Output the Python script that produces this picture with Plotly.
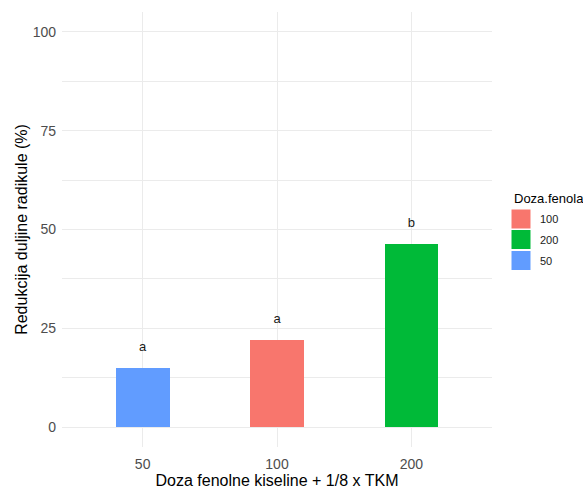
import plotly.graph_objects as go

# Data
doses = ["50", "100", "200"]
reduction = [15.07, 22.15, 46.4]
letters = ["a", "a", "b"]
colors_by_dose = {"100": "#F8766D", "200": "#00BA38", "50": "#619CFF"}
legend_order = ["100", "200", "50"]
label_offset = 5

W, H = 583, 491
ML, MR, MT, MB = 62, 91, 12, 44
PW, PH = W - ML - MR, H - MT - MB


def px2x(px):
    return (px - ML) / PW


def py2y(py):
    return (H - MB - py) / PH


fig = go.Figure()
fig.add_trace(go.Bar(
    x=doses, y=reduction, width=0.4,
    marker=dict(color=[colors_by_dose[d] for d in doses], line=dict(width=0)),
    showlegend=False, hoverinfo="skip",
))
fig.add_trace(go.Scatter(
    x=doses, y=[v + label_offset for v in reduction], text=letters,
    mode="text", textposition="middle center",
    textfont=dict(family="Liberation Sans, Arial", size=13, color="#1A1A1A"),
    showlegend=False, hoverinfo="skip",
))

grid_col = "#EBEBEB"
fig.update_xaxes(
    type="category", categoryorder="array", categoryarray=doses,
    range=[-0.6, 2.6], showgrid=True, gridcolor=grid_col, gridwidth=1,
    zeroline=False, showline=False, ticks="", ticklabelstandoff=7,
    automargin=False,
    tickfont=dict(family="Liberation Sans, Arial", size=14, color="#4D4D4D"),
    title=dict(text="Doza fenolne kiseline + 1/8 x TKM", standoff=1,
               font=dict(family="Liberation Sans, Arial", size=16, color="black")),
)
fig.update_yaxes(
    range=[-5, 105], tickvals=[0, 25, 50, 75, 100],
    showgrid=True, gridcolor=grid_col, gridwidth=1,
    minor=dict(tickvals=[12.5, 37.5, 62.5, 87.5], showgrid=True,
               gridcolor=grid_col, gridwidth=0.6),
    zeroline=False, showline=False, ticks="", ticklabelstandoff=5,
    automargin=False,
    tickfont=dict(family="Liberation Sans, Arial", size=14, color="#4D4D4D"),
    title=dict(text="Redukcija duljine radikule (%)", standoff=1,
               font=dict(family="Liberation Sans, Arial", size=16, color="black")),
)

# Manual legend (ggplot style)
shapes = []
annotations = [dict(
    x=px2x(511.5), y=py2y(198.5), xref="paper", yref="paper",
    text="Doza.fenola", showarrow=False, xanchor="left", yanchor="middle",
    font=dict(family="Liberation Sans, Arial", size=13, color="black"),
)]
key_tops = [209.5, 230, 251]
for d, top in zip(legend_order, key_tops):
    shapes.append(dict(
        type="rect", xref="paper", yref="paper",
        x0=px2x(511.5), x1=px2x(530.5), y0=py2y(top + 19), y1=py2y(top),
        fillcolor=colors_by_dose[d], line=dict(width=0),
    ))
    annotations.append(dict(
        x=px2x(537.5), y=py2y(top + 9.5), xref="paper", yref="paper",
        text=d, showarrow=False, xanchor="left", yanchor="middle",
        font=dict(family="Liberation Sans, Arial", size=11, color="#1A1A1A"),
    ))

fig.update_layout(
    width=W, height=H, margin=dict(l=ML, r=MR, t=MT, b=MB),
    paper_bgcolor="white", plot_bgcolor="white",
    shapes=shapes, annotations=annotations, showlegend=False,
    bargap=0,
)

fig.write_html("out.html", config={"displayModeBar": False},
               post_script="document.body.style.margin='0';document.body.style.overflow='hidden';")
